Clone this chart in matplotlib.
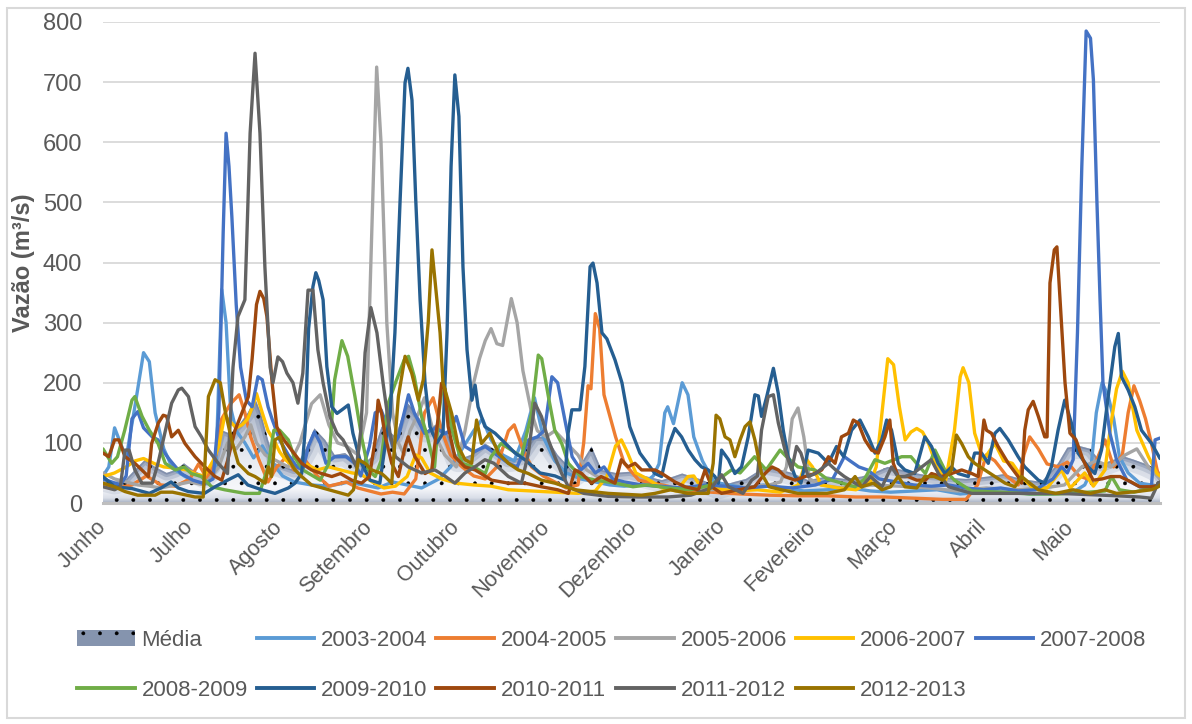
import numpy as np
import matplotlib.pyplot as plt
from matplotlib.patches import Patch, Polygon, Rectangle
from matplotlib.lines import Line2D
from matplotlib.colors import LinearSegmentedColormap

plt.rcParams['font.family'] = ['Liberation Sans', 'DejaVu Sans']
plt.rcParams['hatch.linewidth'] = 0.3

# Hydrological year, day 0 = 1st of June
months = ['Junho', 'Julho', 'Agosto', 'Setembro', 'Outubro', 'Novembro',
          'Dezembro', 'Janeiro', 'Fevereiro', 'Março', 'Abril', 'Maio']
month_start = [0, 30, 61, 92, 122, 153, 183, 214, 245, 273, 304, 334]

# (day, flow m3/s) for each year
media = [(0, 40), (4, 35), (8, 40), (11, 55), (14.5, 72), (18, 60), (22, 50), (25, 55), (28, 66),
         (31, 55), (35, 45), (38, 60), (41, 121), (44, 115), (47, 130), (50, 150), (52.5, 174),
         (54.5, 150), (57, 105), (59.5, 66), (63, 60), (66, 55), (70, 90), (73, 124), (76.7, 105),
         (80, 80), (83.6, 83), (87, 70), (90, 65), (92.8, 77), (96.2, 127), (98.5, 121), (101, 110),
         (103, 140), (105.4, 165), (108, 150), (112, 121), (115.8, 133), (119, 115), (122.7, 72),
         (127, 80), (131.9, 99), (135, 90), (140, 72), (144, 75), (149, 110), (153, 110), (157, 80),
         (163, 49), (168.7, 94), (172.2, 55), (177, 50), (182, 52), (187, 45), (193, 38), (197, 44),
         (200, 49), (206, 40), (212.5, 27), (218, 35), (222, 40), (228.6, 60), (234, 55), (238, 50),
         (243.5, 38), (250, 44), (256, 40), (262, 44), (266, 50), (271, 60), (276, 55), (280, 50),
         (286, 45), (292, 42), (298, 40), (305.7, 44), (311, 48), (317, 40), (324, 35), (329.8, 66),
         (333, 92), (337, 95), (341, 90), (345, 65), (349, 72), (352.8, 77), (356, 72), (360, 65),
         (364.4, 55), (365, 50)]

y2003 = [(0, 45), (2, 60), (4, 125), (6, 100), (8, 75), (11, 160), (14, 250), (16, 235), (18, 150),
         (21, 90), (24, 58), (28, 45), (32, 35), (36, 32), (39, 60), (41, 355), (42.5, 300), (44, 160),
         (46, 120), (49, 100), (52, 75), (55, 95), (58, 70), (62, 45), (66, 35), (72, 30), (78, 28),
         (85, 35), (90, 30), (95, 25), (100, 35), (105, 30), (110, 25), (116, 40), (120, 60), (124, 90),
         (128, 120), (131, 140), (134, 105), (138, 80), (142, 70), (146, 120), (149, 175), (152, 110),
         (156, 70), (160, 50), (165, 40), (170, 35), (175, 30), (180, 28), (186, 30), (190, 45),
         (192, 65), (194, 150), (195, 160), (197, 132), (200, 200), (202, 180), (204, 110), (207, 70),
         (211, 35), (216, 30), (222, 25), (228, 30), (235, 25), (242, 20), (250, 22), (258, 25),
         (265, 20), (272, 18), (280, 20), (288, 22), (296, 15), (304, 18), (312, 20), (320, 15),
         (328, 15), (335, 18), (339, 30), (341, 50), (343, 150), (345, 200), (347, 180), (349, 140),
         (351, 77), (354, 50), (358, 33), (362, 30), (365, 28)]

y2004 = [(0, 28), (5, 25), (10, 30), (15, 45), (20, 30), (25, 28), (30, 40), (33, 65), (36, 40),
         (39, 80), (41, 140), (44, 165), (47, 180), (49, 150), (51, 110), (54, 70), (57, 35), (60, 60),
         (63, 75), (66, 55), (70, 70), (74, 45), (78, 28), (84, 35), (88, 25), (92, 20), (96, 15),
         (100, 18), (104, 15), (108, 40), (111, 150), (114, 175), (117, 120), (120, 80), (124, 60),
         (128, 45), (132, 40), (136, 60), (140, 120), (142, 130), (145, 90), (148, 60), (152, 45),
         (156, 35), (160, 25), (164, 30), (166, 100), (167.5, 195), (168.5, 190), (170, 315),
         (171.5, 290), (173, 180), (177, 110), (180, 66), (185, 38), (190, 33), (195, 28), (200, 20),
         (210, 18), (220, 15), (230, 13), (240, 12), (250, 12), (260, 10), (270, 10), (280, 8),
         (290, 6), (298, 6), (302, 30), (305, 80), (308, 70), (312, 45), (316, 30), (318, 80),
         (320, 110), (323, 90), (326, 65), (330, 60), (333, 68), (337, 45), (340, 40), (343, 70),
         (346, 105), (349, 60), (352, 80), (354, 150), (356, 195), (358, 170), (360, 140), (362, 100),
         (364, 55), (365, 40)]

y2005 = [(0, 50), (4, 40), (8, 35), (12, 30), (16, 28), (20, 25), (25, 30), (30, 35), (35, 30),
         (40, 60), (43, 100), (46, 90), (49, 110), (51, 130), (53, 100), (56, 80), (60, 70), (64, 60),
         (68, 100), (72, 165), (75, 180), (78, 130), (81, 100), (84, 95), (88, 80), (91, 150),
         (92.5, 400), (94.5, 725), (96, 600), (98, 300), (100, 150), (102, 100), (104, 80), (106, 120),
         (109, 150), (111, 175), (114, 120), (118, 80), (122, 60), (125, 120), (128, 200), (130, 240),
         (132, 270), (134, 290), (136, 265), (138, 262), (141, 340), (143, 300), (145, 220), (148, 150),
         (150, 120), (153, 110), (156, 120), (160, 100), (164, 80), (167, 55), (172, 40), (178, 35),
         (185, 30), (192, 28), (200, 25), (210, 22), (220, 25), (230, 30), (234, 35), (236, 60),
         (238, 140), (240, 158), (242, 110), (244, 40), (248, 30), (255, 25), (265, 30), (275, 28),
         (285, 25), (295, 20), (305, 25), (315, 22), (325, 25), (332, 30), (338, 60), (343, 70),
         (348, 60), (353, 80), (357, 90), (361, 60), (365, 40)]

y2006 = [(0, 44), (4, 50), (8, 60), (11, 70), (14, 74), (18, 65), (21, 60), (25, 58), (29, 55),
         (32, 48), (35, 45), (38, 70), (40, 95), (42, 145), (44, 135), (46, 125), (48, 130), (50, 140),
         (52, 165), (53, 182), (55, 150), (57, 120), (59, 105), (61, 85), (63, 72), (66, 60), (70, 65),
         (74, 55), (78, 60), (82, 55), (86, 50), (89, 48), (93, 35), (97, 25), (101, 28), (105, 44),
         (108, 80), (110, 75), (113, 50), (117, 40), (122, 33), (128, 30), (134, 28), (140, 22),
         (148, 20), (156, 18), (164, 16), (170, 20), (174, 44), (177, 95), (179, 105), (181, 85),
         (184, 50), (188, 40), (193, 25), (198, 20), (202, 44), (204, 45), (206, 30), (210, 25),
         (218, 20), (226, 22), (234, 18), (240, 30), (243, 72), (245, 60), (248, 30), (254, 25),
         (260, 22), (265, 35), (267, 60), (269, 150), (271, 240), (273, 230), (275, 160), (277, 105),
         (279, 118), (281, 124), (283, 118), (285, 100), (288, 60), (291, 38), (294, 120), (296, 210),
         (297, 225), (299, 200), (301, 116), (304, 72), (308, 99), (311, 70), (314, 66), (317, 45),
         (321, 25), (326, 25), (331, 55), (334, 25), (339, 50), (342, 28), (346, 55), (348, 130),
         (350, 190), (352, 219), (354, 200), (357, 121), (361, 77), (364, 49), (365, 45)]

y2007 = [(0, 40), (3, 35), (6, 30), (8, 45), (10, 140), (12, 152), (14, 125), (17, 110), (19, 105),
         (21, 85), (23, 72), (27, 49), (31, 38), (35, 32), (38, 40), (40, 150), (41.5, 450),
         (42.5, 615), (43.5, 560), (44.5, 476), (46, 330), (47.5, 226), (49.5, 171), (51.5, 160),
         (53.5, 210), (55, 205), (57, 160), (58.5, 138), (61, 105), (64, 80), (67, 60), (69, 55),
         (71, 95), (73, 118), (75, 100), (77, 66), (80, 77), (84, 77), (87, 66), (89, 45), (92, 94),
         (94, 150), (96, 155), (98, 130), (100, 94), (102, 110), (104, 150), (105.5, 180),
         (107.5, 150), (111, 116), (115, 125), (118, 115), (120, 121), (122, 144), (125, 94), (128, 85),
         (132, 94), (136, 80), (140, 66), (143, 60), (147, 105), (150, 110), (152.5, 121), (155, 210),
         (157, 200), (159.5, 138), (162, 77), (165, 55), (167.5, 66), (170, 50), (173, 60), (176, 40),
         (180, 35), (186, 30), (192, 28), (200, 25), (208, 30), (215, 28), (222, 25), (230, 28),
         (238, 25), (246, 30), (252, 40), (256, 77), (258, 70), (261, 60), (264, 55), (268, 40),
         (274, 35), (280, 30), (286, 28), (292, 30), (298, 25), (304, 22), (310, 25), (316, 20),
         (322, 22), (328, 40), (331, 60), (333, 50), (335, 72), (336.5, 283), (338, 560),
         (339.5, 785), (341, 773), (342, 704), (343.2, 504), (344.3, 338), (345.3, 200), (347.7, 116),
         (350, 72), (353.6, 38), (358, 27), (362, 25), (363.3, 105), (365, 108)]

y2008 = [(0, 90), (3, 66), (5, 77), (7.5, 121), (10, 171), (11, 177), (13.5, 144), (16, 121),
         (19, 99), (21.5, 66), (25, 55), (28, 60), (30.5, 49), (34, 44), (37.5, 27), (42, 22),
         (49, 16), (54, 16), (57, 60), (59, 121), (61, 121), (64, 105), (66, 77), (69, 55), (75, 38),
         (78, 66), (80, 205), (82.5, 270), (84.5, 244), (87, 177), (89.3, 110), (91.6, 55), (94, 44),
         (96, 70), (98.5, 166), (101, 200), (104, 238), (105.5, 244), (107.5, 210), (110, 144),
         (112, 110), (114.5, 60), (116, 150), (117.5, 205), (120.5, 121), (124, 66), (128, 60),
         (132, 49), (134, 77), (137.5, 99), (141, 88), (144.5, 77), (148, 149), (150.3, 246),
         (151.5, 240), (153.8, 177), (156, 121), (158.4, 99), (160.7, 66), (165, 44), (170, 38),
         (177, 33), (183, 27), (188, 30), (195, 25), (203, 22), (210, 30), (217, 55), (220, 50),
         (225, 77), (229, 55), (233.8, 88), (236, 77), (240, 60), (245.8, 55), (250, 40), (259.7, 27),
         (263, 40), (266.6, 72), (270, 66), (275.8, 77), (279, 77), (282, 60), (284, 49), (287.3, 88),
         (290.7, 55), (294, 38), (300, 20), (310, 18), (320, 15), (330, 15), (340, 18), (346, 20),
         (348.3, 44), (351, 22), (356, 18), (362, 25), (365, 30)]

y2009 = [(0, 44), (4, 27), (10, 24), (16, 16), (20, 25), (23.5, 35), (26, 25), (29.5, 19), (35, 16),
         (38.7, 27), (43, 38), (46.7, 47), (50, 30), (54.8, 22), (59.4, 16), (64, 25), (66.3, 33),
         (68.6, 49), (69.8, 121), (71, 290), (72.5, 360), (73.5, 383), (74.5, 370), (76, 338),
         (77.3, 227), (79, 160), (80.8, 149), (82.5, 155), (84.7, 163), (86.3, 116), (88.7, 72),
         (92.2, 38), (95.6, 33), (98, 116), (99.1, 143), (100.8, 283), (102.6, 504), (104.3, 699),
         (105.3, 723), (106.7, 670), (108, 504), (109.5, 338), (111.2, 200), (112.9, 127),
         (115.3, 100), (117.4, 116), (118.8, 283), (120.2, 560), (121.5, 712), (122.9, 643),
         (124.3, 393), (125.7, 255), (127.4, 171), (128.5, 196), (129.5, 160), (131.9, 127),
         (135.4, 116), (138.8, 100), (142.3, 83), (145.7, 72), (150.9, 50), (156.1, 45), (159.5, 38),
         (160.6, 116), (161.9, 155), (164.7, 155), (166.4, 227), (168.2, 393), (169.2, 399),
         (170.6, 366), (172.3, 283), (174, 273), (176.8, 238), (179.2, 200), (181.9, 127),
         (185.4, 83), (190.6, 49), (192.9, 44), (195.2, 94), (197.5, 124), (199.8, 110), (202.1, 88),
         (204.4, 72), (206.7, 60), (209, 55), (211.3, 44), (212.5, 33), (213.6, 88), (216, 72),
         (218.2, 49), (220.5, 60), (222.8, 110), (225.1, 180), (226.3, 178), (227.4, 144),
         (229.2, 177), (231.5, 224), (233.2, 182), (234.9, 121), (236.6, 77), (239, 44), (241, 33),
         (243.5, 88), (247, 83), (250.5, 66), (253.3, 94), (255.8, 77), (258.5, 121), (261.4, 138),
         (264.3, 110), (266.6, 83), (268.9, 105), (270.6, 138), (272.3, 121), (274.6, 66),
         (276.9, 55), (280.3, 49), (283.8, 110), (286.1, 94), (288.4, 66), (290.7, 49), (293, 60),
         (295.3, 49), (298.8, 44), (301, 83), (303.4, 83), (305.7, 66), (308, 116), (309.7, 124),
         (312.6, 105), (316, 77), (318.3, 60), (323, 38), (325.2, 33), (327.5, 60), (329.8, 121),
         (332.1, 171), (334.4, 133), (336.7, 83), (340.2, 60), (342.5, 49), (344.8, 88), (347.1, 177),
         (349.4, 260), (350.6, 282), (351.7, 210), (354, 188), (356.3, 160), (358.6, 121),
         (362.1, 99), (365, 74)]

y2010 = [(0, 83), (2, 77), (4, 105), (5.5, 105), (7.6, 77), (11, 66), (13.4, 55), (15.7, 44),
         (16.8, 99), (19.1, 133), (20.8, 146), (22, 144), (23.7, 110), (26, 121), (28.3, 99),
         (31.8, 77), (35.2, 60), (38.7, 44), (41, 38), (43, 70), (45.6, 121), (48, 150), (50.2, 177),
         (51.5, 240), (53, 330), (54.2, 352), (55.5, 340), (56.6, 310), (58.4, 200), (60, 127),
         (61.7, 110), (65.1, 88), (68.6, 66), (72, 55), (75.5, 49), (79, 44), (82, 49), (85.9, 38),
         (89.3, 33), (92, 44), (94, 105), (95, 171), (96.2, 149), (97.5, 110), (99.7, 66), (102, 44),
         (104.3, 94), (105.4, 110), (107.7, 77), (111.2, 49), (113.5, 55), (115.8, 144), (116.9, 199),
         (118, 190), (119.2, 127), (121.5, 77), (125, 60), (128.5, 55), (134.2, 38), (140, 33),
         (145.7, 33), (151.4, 27), (157, 22), (160.7, 16), (163, 55), (165.3, 49), (168.7, 33),
         (172, 44), (176.8, 33), (179, 72), (181.3, 60), (183.7, 66), (186, 55), (190.6, 55),
         (193, 49), (197.5, 35), (201, 27), (205.6, 22), (207.9, 55), (210.2, 27), (213.6, 16),
         (219.4, 22), (225, 27), (228.6, 49), (231, 60), (233.2, 55), (235.5, 44), (239, 38),
         (242.4, 44), (245.8, 49), (248.2, 55), (250.5, 77), (252.8, 66), (255, 110), (257.4, 116),
         (259.1, 138), (260.8, 133), (263.1, 105), (265.4, 88), (267.7, 83), (270, 110), (271.7, 138),
         (272.9, 66), (274.6, 44), (278, 44), (281, 38), (284, 38), (286.1, 49), (289.5, 44),
         (293, 49), (296.5, 55), (300, 49), (302.2, 44), (304.2, 138), (305.1, 121), (306.8, 116),
         (309.1, 94), (312.6, 66), (316, 44), (317.2, 33), (318.3, 121), (319.5, 155), (321.2, 169),
         (323, 144), (325.2, 110), (326, 110), (327, 366), (328.5, 421), (329.4, 426), (330.5, 338),
         (332.2, 200), (333.9, 116), (336, 105), (338.4, 72), (341.9, 38), (345, 40), (348, 44),
         (351.2, 44), (355, 35), (358, 27), (362, 27), (365, 30)]

y2011 = [(0, 27), (4, 22), (6, 27), (7.6, 88), (9, 88), (11, 55), (13.4, 33), (17, 33), (19, 66),
         (20.3, 94), (23.7, 166), (26, 188), (27.2, 191), (29.5, 177), (31.8, 127), (34, 110),
         (36.4, 88), (39.8, 66), (43, 49), (44.9, 226), (46.6, 310), (49, 338), (50.8, 615),
         (52.5, 748), (54.2, 615), (55.9, 393), (57.7, 226), (58.7, 200), (60.4, 243), (62, 235),
         (63.5, 216), (65.6, 200), (67.3, 166), (69, 216), (70.8, 354), (72.5, 354), (74.2, 255),
         (76, 200), (78.4, 143), (80.8, 116), (82.9, 105), (85.3, 83), (87.5, 60), (89, 120),
         (90.5, 250), (92.5, 325), (94.6, 283), (96.7, 200), (99.1, 116), (101, 77), (105.4, 60),
         (110, 50), (114.6, 55), (118, 45), (121.5, 33), (125, 50), (128.4, 60), (131.9, 72),
         (135, 66), (140, 44), (144.5, 33), (146.9, 83), (149.1, 166), (151.4, 144), (153.8, 105),
         (156, 77), (158.4, 49), (160.7, 27), (166, 16), (174.5, 11), (185, 10), (195, 10), (203, 13),
         (210, 25), (213.6, 47), (216, 27), (221, 16), (224, 38), (226, 45), (227.4, 121),
         (229.7, 177), (231.5, 180), (233.2, 133), (235.5, 88), (237.8, 55), (239.5, 94), (241, 83),
         (243.5, 44), (246, 49), (250.5, 66), (253, 55), (256, 44), (259.7, 33), (262, 27), (265, 44),
         (269, 27), (272.3, 60), (274.5, 44), (277, 44), (280, 50), (286, 72), (288.5, 49), (292, 27),
         (300, 16), (310, 16), (320, 16), (330, 16), (340, 14), (350, 12), (358, 10), (362, 8),
         (364.4, 33), (365, 35)]

y2012 = [(0, 33), (4, 27), (7.6, 19), (12, 13), (18, 13), (20, 18), (24, 18), (27, 15), (31.8, 10),
         (34.6, 10), (35.2, 66), (36.4, 177), (38.7, 205), (40.5, 200), (42.1, 155), (44.4, 105),
         (46.7, 66), (50.2, 49), (52.5, 44), (56, 33), (57.1, 60), (58.2, 44), (59.4, 105),
         (61.1, 110), (62.8, 83), (66.3, 55), (68.6, 44), (72, 30), (78, 22), (84.7, 13), (86.5, 22),
         (88.2, 72), (90.5, 66), (92.8, 55), (96.2, 49), (97.4, 44), (99.7, 33), (102, 177),
         (104.3, 244), (106.6, 216), (108.9, 171), (110.6, 205), (112.3, 300), (113.6, 421),
         (115.3, 338), (116.4, 283), (117.4, 200), (120.4, 149), (122.7, 94), (125, 72), (127.3, 66),
         (129, 138), (130.7, 99), (133.6, 116), (136.5, 83), (140, 66), (143.4, 55), (146.9, 49),
         (151.4, 38), (156, 33), (163, 22), (174.5, 16), (186, 13), (190.6, 16), (196, 22), (202, 16),
         (209, 16), (210.7, 66), (211.7, 146), (213, 140), (214.8, 110), (216.5, 105), (218.2, 77),
         (220, 105), (221.7, 127), (223.4, 135), (225.1, 105), (227.4, 49), (230, 27), (234.3, 22),
         (240, 16), (250, 16), (256, 22), (259.7, 44), (262, 27), (266, 33), (269, 22), (272, 27),
         (274.6, 44), (276.9, 27), (281, 25), (283.8, 44), (287, 44), (290, 38), (293, 55),
         (294.7, 113), (296.5, 99), (298.8, 77), (301, 66), (304.5, 55), (308, 44), (311.5, 33),
         (314.9, 27), (317.2, 44), (320, 33), (323, 22), (329, 16), (335, 22), (341, 16), (346, 22),
         (350, 16), (357, 19), (362, 22), (364.4, 27), (365, 30)]

years = ['2003-2004', '2004-2005', '2005-2006', '2006-2007', '2007-2008',
         '2008-2009', '2009-2010', '2010-2011', '2011-2012', '2012-2013']
colors = ['#5B9BD5', '#ED7D31', '#A5A5A5', '#FFC000', '#4472C4',
          '#70AD47', '#255E91', '#9E480E', '#636363', '#997300']
flows = [y2003, y2004, y2005, y2006, y2007, y2008, y2009, y2010, y2011, y2012]

txt = '#595959'

fig = plt.figure(figsize=(11.92, 7.24), dpi=100)
ax = fig.add_axes([103 / 1192, 1 - 503 / 724, 1057 / 1192, 481 / 724])

# average as a shaded area: soft gradient, darker along its upper edge, dotted
m = np.array(media)
mx, my = m[:, 0], m[:, 1]
verts = np.vstack([[mx[0], 0], np.column_stack([mx, my]), [mx[-1], 0]])
clip = Polygon(verts, closed=True, facecolor='none', edgecolor='none', zorder=1)
ax.add_patch(clip)

grad_cmap = LinearSegmentedColormap.from_list(
    'media', [(0, '#a7b1c3'), (0.04, '#d9dee8'), (0.12, '#f6f7fa'),
              (0.5, '#dfe4ec'), (1, '#a3afc4')])
grad = np.linspace(0, 1, 256).reshape(-1, 1)
im = ax.imshow(grad, extent=[0, 365, 0, 200], origin='lower', aspect='auto',
               cmap=grad_cmap, zorder=1, interpolation='bilinear')
im.set_clip_path(clip)

for lw, a in [(18, 0.15), (11, 0.24), (6, 0.34), (2.5, 0.5)]:
    edge, = ax.plot(mx, my, color='#65779a', lw=lw, alpha=a, zorder=1.2,
                    solid_joinstyle='round')
    edge.set_clip_path(clip)

ax.fill_between(mx, 0, my, facecolor='none', edgecolor='black', hatch='.',
                linewidth=0, zorder=1.4)

for i, (data, c) in enumerate(zip(flows, colors)):
    d = np.array(data)
    ax.plot(d[:, 0], d[:, 1], color=c, lw=2.4, zorder=2 + i,
            solid_joinstyle='round', solid_capstyle='round')

ax.set_xlim(0, 365)
ax.set_ylim(0, 800)
ax.set_yticks(range(0, 801, 100))
ax.set_xticks(month_start)
ax.set_xticklabels(months, rotation=45, ha='right', va='center',
                   rotation_mode='anchor', fontsize=15.5, color=txt)
ax.tick_params(axis='x', length=0, pad=15)
ax.tick_params(axis='y', length=0, pad=15, labelsize=17, labelcolor=txt)

ax.yaxis.grid(True, color='#d9d9d9', lw=1.3)
ax.set_axisbelow(True)
for s in ['top', 'right', 'left']:
    ax.spines[s].set_visible(False)
ax.spines['bottom'].set_color('#bfbfbf')
ax.spines['bottom'].set_linewidth(2.2)
ax.spines['bottom'].set_zorder(20)

ax.set_ylabel('Vazão (m³/s)', fontsize=17, fontweight='bold', color=txt)
ax.yaxis.set_label_coords(-0.064, 0.5)

# legend laid out row by row (2 rows x 6 columns)
media_handle = Patch(facecolor='#8594ae', edgecolor='black', hatch='.', linewidth=0)
line_handles = [Line2D([], [], color=c, lw=2.8) for c in colors]
row1 = [(media_handle, 'Média')] + list(zip(line_handles[:5], years[:5]))
row2 = list(zip(line_handles[5:], years[5:]))
order = []
for k in range(6):
    order.append(row1[k])
    if k < len(row2):
        order.append(row2[k])
fig.legend([h for h, _ in order], [l for _, l in order], ncol=6, loc='upper left',
           bbox_to_anchor=(77 / 1192, 1 - 630 / 724), frameon=False, fontsize=16,
           labelcolor=txt, handlelength=2.6, handletextpad=0.3, columnspacing=0.4,
           labelspacing=1.3, borderpad=0, borderaxespad=0)

fig.patches.append(Rectangle((7 / 1192, 6 / 724), 1178 / 1192, 710 / 724,
                             transform=fig.transFigure, fill=False,
                             edgecolor='#d9d9d9', lw=1.5))

fig.savefig('out.png', dpi=100)
